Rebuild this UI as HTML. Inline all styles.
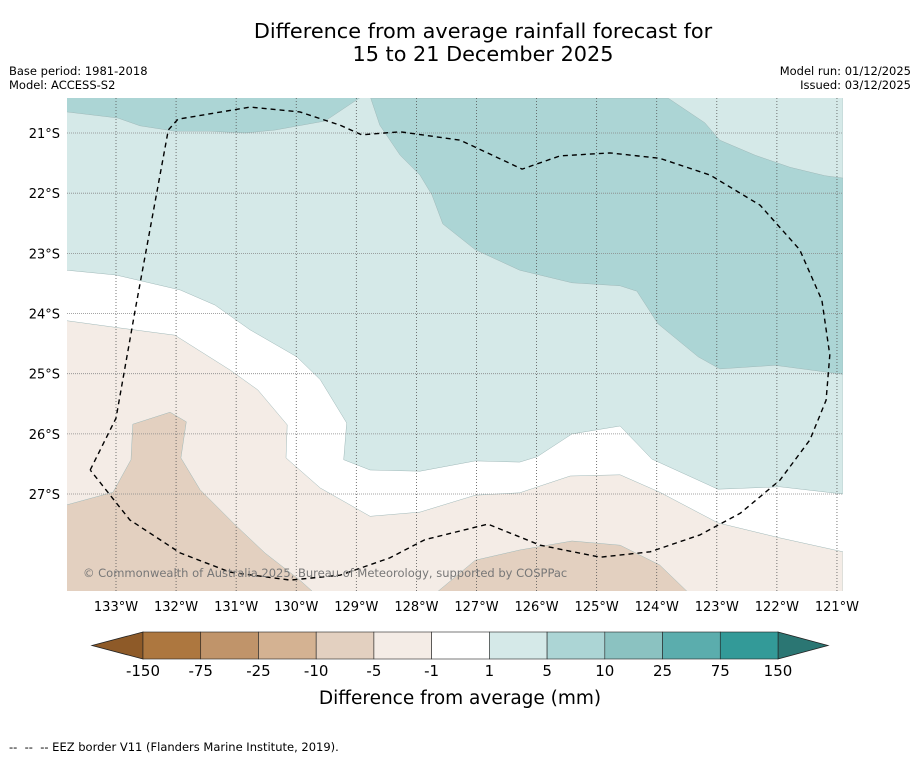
<!DOCTYPE html>
<html><head><meta charset="utf-8"><style>
body{margin:0;background:#fff;font-family:"Liberation Sans","DejaVu Sans",sans-serif;}
svg text{font-family:"DejaVu Sans","Liberation Sans",sans-serif;}
</style></head><body>
<svg id="chart" width="919" height="758" viewBox="0 0 919 758" xmlns="http://www.w3.org/2000/svg">
<rect width="919" height="758" fill="#fff"/>
<text x="483" y="38" font-size="20.8" text-anchor="middle">Difference from average rainfall forecast for</text>
<text x="483" y="61" font-size="20.8" text-anchor="middle">15 to 21 December 2025</text>
<text x="9" y="75" font-size="11.5">Base period: 1981-2018</text>
<text x="9" y="89" font-size="11.5">Model: ACCESS-S2</text>
<text x="911" y="75" font-size="11.5" text-anchor="end">Model run: 01/12/2025</text>
<text x="911" y="89" font-size="11.5" text-anchor="end">Issued: 03/12/2025</text>
<defs><clipPath id="mapclip"><rect x="67" y="98" width="776" height="493"/></clipPath></defs>
<g id="map" clip-path="url(#mapclip)"><rect x="67" y="98" width="776" height="493" fill="#fff"/></g>
<g id="grid"></g>
<g id="eez"></g>
<text x="83" y="577" font-size="11.5" fill="#777">© Commonwealth of Australia 2025, Bureau of Meteorology, supported by COSPPac</text>
<g id="xticks"></g>
<g id="yticks"></g>
<g id="cbar"></g>
<text x="460" y="704" font-size="18.5" text-anchor="middle">Difference from average (mm)</text>
<text x="9" y="751" font-size="11.5" xml:space="preserve">--  --  -- EEZ border V11 (Flanders Marine Institute, 2019).</text>
</svg>
<script>
const lonTicks=[133,132,131,130,129,128,127,126,125,124,123,122,121];
const latTicks=[21,22,23,24,25,26,27];
const cbarLabels=["-150","-75","-25","-10","-5","-1","1","5","10","25","75","150"];
const cbarColors=["#ad773f","#c0946a","#d4b292","#e3d0c0","#f4ece6","#ffffff","#d5e9e8","#acd5d5","#8bc2c1","#5badad","#339a98"];
const lightTeal=[[133.82,23.28],[133,23.36],[131.93,23.61],[131.35,23.86],[130.77,24.27],[129.99,24.72],[129.6,25.1],[129.16,25.82],[129.21,26.43],[128.77,26.6],[127.94,26.62],[127.02,26.45],[126.28,26.47],[125.99,26.38],[125.41,26],[124.61,25.87],[124.08,26.42],[122.98,26.92],[121.95,26.88],[120.9,27],[120.9,20.3],[133.82,20.3]];
const midTealNW=[[133.82,20.65],[132.97,20.75],[132.6,20.88],[132.02,20.97],[131.44,20.97],[130.85,21],[130.35,20.95],[129.52,20.8],[128.77,20.3],[133.82,20.3]];
const midTealNE=[[128.76,20.42],[128.61,20.87],[128.27,21.37],[127.94,21.7],[127.74,22.03],[127.56,22.51],[127.02,22.94],[126.28,23.28],[125.41,23.49],[124.61,23.54],[124.33,23.63],[123.98,24.17],[123.31,24.72],[122.95,24.92],[122.03,24.86],[120.9,25.01],[120.9,21.75],[121.2,21.71],[121.78,21.57],[122.36,21.37],[122.95,21.12],[123.2,20.83],[123.81,20.42]];
const lightBeige=[[133.82,24.12],[132.93,24.24],[132.02,24.36],[131.1,24.94],[130.64,25.27],[130.15,25.85],[130.17,26.4],[129.6,26.9],[128.77,27.37],[127.94,27.3],[127.02,27.02],[126.28,26.98],[125.44,26.7],[124.61,26.68],[123.95,26.97],[122.98,27.48],[121.95,27.73],[120.9,27.96],[120.9,28.7],[133.82,28.7]];
const beigeW=[[133.82,27.18],[133.05,26.97],[132.75,26.43],[132.72,25.84],[132.1,25.64],[131.83,25.8],[131.92,26.4],[131.6,26.93],[131.02,27.51],[130.52,27.98],[129.94,28.43],[129.64,28.7],[133.82,28.7]];
const beigeS=[[127.74,28.7],[127.02,28.1],[126.28,27.93],[125.41,27.78],[124.61,27.85],[123.95,28.18],[123.41,28.7]];
const eezPath=[[133.43,26.6],[133,25.74],[132.68,23.94],[132.13,20.95],[131.97,20.77],[130.77,20.57],[129.94,20.65],[129.27,20.87],[128.91,21.03],[128.27,20.98],[127.27,21.12],[126.24,21.6],[125.61,21.38],[124.78,21.33],[123.95,21.42],[123.11,21.7],[122.28,22.2],[121.62,22.94],[121.25,23.78],[121.12,24.69],[121.18,25.44],[121.45,26.1],[121.95,26.77],[122.61,27.32],[123.28,27.68],[124.11,27.96],[124.94,28.05],[125.94,27.85],[126.81,27.5],[127.86,27.76],[128.44,28.06],[129.27,28.35],[130.1,28.43],[131.1,28.3],[131.93,27.98],[132.77,27.43],[133.43,26.6]];
const NS="http://www.w3.org/2000/svg";
const xS=lon=>116+(133-lon)*60.08;
const yS=lat=>133+(lat-21)*60.17;
function mk(tag,parent,attrs){const e=document.createElementNS(NS,tag);for(const k in attrs)e.setAttribute(k,attrs[k]);parent.appendChild(e);return e;}
const pts=arr=>arr.map(p=>xS(p[0]).toFixed(1)+","+yS(p[1]).toFixed(1)).join(" ");
const map=document.getElementById('map');
[[lightTeal,"#d5e9e8","light-teal-region"],[midTealNW,"#acd5d5","mid-teal-north-west"],[midTealNE,"#acd5d5","mid-teal-north-east"],[lightBeige,"#f4ece6","light-beige-region"],[beigeW,"#e3d0c0","beige-west-region"],[beigeS,"#e3d0c0","beige-south-region"]].forEach(r=>{
 const p=mk('polygon',map,{points:pts(r[0]),fill:r[1],stroke:"#9fb8b8","stroke-width":"0.5"});
 
 
});
const grid=document.getElementById('grid');
lonTicks.forEach(l=>{const ln=mk('line',grid,{x1:xS(l),x2:xS(l),y1:98,y2:591,stroke:"#555","stroke-width":"0.8","stroke-dasharray":"1,2"});
 });
latTicks.forEach(l=>{const ln=mk('line',grid,{x1:67,x2:843,y1:yS(l),y2:yS(l),stroke:"#888","stroke-width":"0.8","stroke-dasharray":"1,1"});
 });
const eez=mk('polyline',document.getElementById('eez'),{points:pts(eezPath),fill:"none",stroke:"#000","stroke-width":"1.4","stroke-dasharray":"5,4","stroke-linejoin":"round"});

const xt=document.getElementById('xticks');
lonTicks.forEach(l=>{const t=mk('text',xt,{x:xS(l),y:611,"font-size":"13","text-anchor":"middle"});t.textContent=l+"°W";
 });
const yt=document.getElementById('yticks');
latTicks.forEach(l=>{const t=mk('text',yt,{x:60,y:yS(l)+5,"font-size":"13","text-anchor":"end"});t.textContent=l+"°S";
 });
const cb=document.getElementById('cbar');
const bx0=143,bx1=778,by=632,bh=27,bw=(bx1-bx0)/cbarColors.length;
const lt=mk('polygon',cb,{points:`${bx0},${by} ${bx0},${by+bh} 92,${by+bh/2}`,fill:"#8e5a28",stroke:"#222","stroke-width":"0.8"});

const rt=mk('polygon',cb,{points:`${bx1},${by} ${bx1},${by+bh} 828,${by+bh/2}`,fill:"#2b7673",stroke:"#222","stroke-width":"0.8"});

cbarColors.forEach((c,i)=>{const r=mk('rect',cb,{x:bx0+i*bw,y:by,width:bw,height:bh,fill:c,stroke:"#222","stroke-width":"0.6"});
 });
cbarLabels.forEach((s,i)=>{const t=mk('text',cb,{x:bx0+i*bw,y:676,"font-size":"15","text-anchor":"middle"});t.textContent=s;
 });
</script>
</body></html>
